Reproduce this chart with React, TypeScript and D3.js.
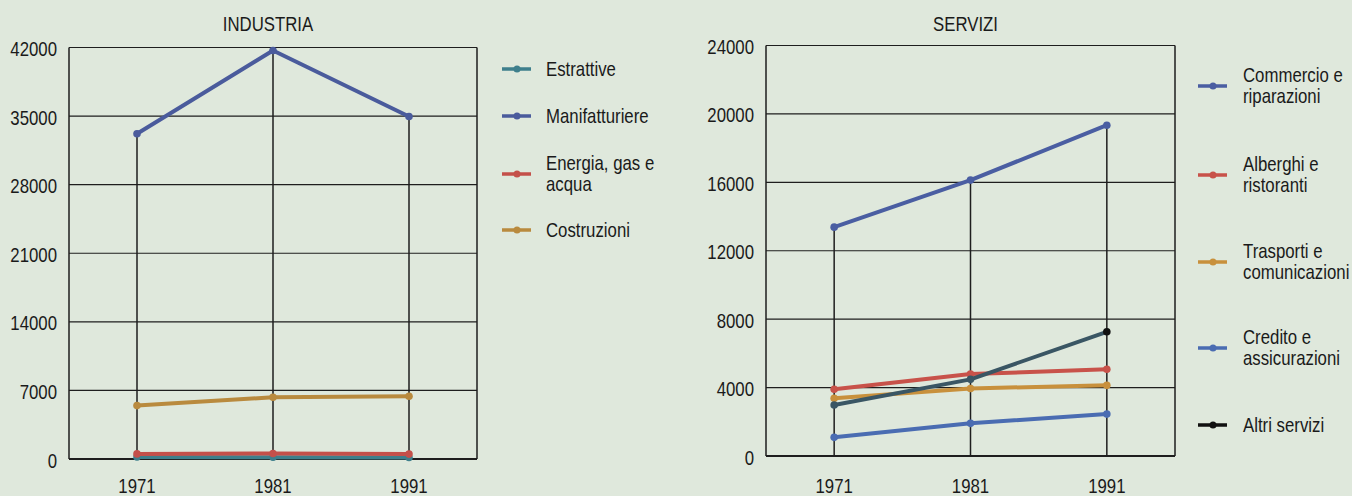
import React from "react";
import * as d3 from "d3";

// ---------- DATA ----------
const years = [1971, 1981, 1991];

const industriaSeries = ["Estrattive", "Manifatturiere", "Energia, gas e acqua", "Costruzioni"];
const industriaLabelLines = [["Estrattive"], ["Manifatturiere"], ["Energia, gas e", "acqua"], ["Costruzioni"]];
const estrattive = [200, 180, 150];
const manifatturiere = [33200, 41700, 34950];
const energia = [520, 560, 500];
const costruzioni = [5450, 6300, 6400];
const industriaTicks = [0, 7000, 14000, 21000, 28000, 35000, 42000];

const serviziSeries = ["Commercio e riparazioni", "Alberghi e ristoranti", "Trasporti e comunicazioni", "Credito e assicurazioni", "Altri servizi"];
const serviziLabelLines = [["Commercio e", "riparazioni"], ["Alberghi e", "ristoranti"], ["Trasporti e", "comunicazioni"], ["Credito e", "assicurazioni"], ["Altri servizi"]];
const commercio = [13380, 16130, 19340];
const alberghi = [3900, 4790, 5070];
const trasporti = [3370, 3950, 4130];
const credito = [1090, 1910, 2450];
const altri = [2980, 4480, 7260];
const serviziTicks = [0, 4000, 8000, 12000, 16000, 20000, 24000];

// ---------- STYLE ----------
const BG = "#dfe8dc";
const FONT = "'Liberation Sans', Arial, sans-serif";
const FS = 20;
const SX = 0.84;

function T({ x, y, anchor = "start", children }: { x: number; y: number; anchor?: string; children: React.ReactNode }) {
  return (
    <text
      transform={`translate(${x},${y}) scale(${SX},1)`}
      textAnchor={anchor}
      dominantBaseline="central"
      fontSize={FS}
      fontFamily={FONT}
      fill="#1a1a1a"
    >
      {children}
    </text>
  );
}

type Panel = {
  title: string;
  x0: number; x1: number; yTop: number; yBottom: number;
  yMax: number; ticks: number[];
  series: { values: number[]; color: string; dot: string }[];
  legend: { lines: string[]; color: string; dot: string; y: number }[];
  legendX: number; legendTextX: number;
};

function ChartPanel({ p }: { p: Panel }) {
  const x = d3.scaleLinear().domain([1966, 1996]).range([p.x0, p.x1]);
  const y = d3.scaleLinear().domain([0, p.yMax]).range([p.yBottom, p.yTop]);
  const line = d3.line<number>().x((_, i) => x(years[i])).y((v) => y(v));
  const maxAt = years.map((_, i) => d3.max(p.series, (s) => s.values[i]) as number);
  return (
    <g>
      <T x={(p.x0 + p.x1) / 2 - 5} y={24} anchor="middle">{p.title}</T>
      {/* grid */}
      {p.ticks.map((t) => (
        <g key={t}>
          <line x1={p.x0} x2={p.x1} y1={y(t)} y2={y(t)} stroke="#1e1e1e" strokeWidth={t === 0 ? 2 : 1.2} />
          <T x={p.x0 - 12} y={y(t) + 1.5} anchor="end">{t}</T>
        </g>
      ))}
      <line x1={p.x0} x2={p.x0} y1={p.yTop} y2={p.yBottom} stroke="#1e1e1e" strokeWidth={1.5} />
      <line x1={p.x1} x2={p.x1} y1={p.yTop} y2={p.yBottom} stroke="#1e1e1e" strokeWidth={1.5} />
      {/* drop lines */}
      {years.map((yr, i) => (
        <line key={yr} x1={x(yr)} x2={x(yr)} y1={y(maxAt[i])} y2={p.yBottom} stroke="#1e1e1e" strokeWidth={1.5} />
      ))}
      {/* x labels */}
      {years.map((yr) => (
        <T key={yr} x={x(yr)} y={486} anchor="middle">{yr}</T>
      ))}
      {/* series */}
      {p.series.map((s, k) => (
        <g key={k}>
          <path d={line(s.values) as string} fill="none" stroke={s.color} strokeWidth={4} strokeLinejoin="round" />
          {s.values.map((v, i) => (
            <circle key={i} cx={x(years[i])} cy={y(v)} r={3.8} fill={i === 2 && s.dot ? s.dot : s.color} />
          ))}
        </g>
      ))}
      {/* legend */}
      {p.legend.map((l, k) => (
        <g key={k}>
          <line x1={p.legendX} x2={p.legendX + 29} y1={l.y} y2={l.y} stroke={l.color} strokeWidth={3.5} />
          <circle cx={p.legendX + 15} cy={l.y} r={3.5} fill={l.dot || l.color} />
          {l.lines.map((t, j) => {
            const n = l.lines.length;
            const ty = l.y + (j - (n - 1) / 2) * 21 - (n > 1 ? 1 : 0);
            return <T key={j} x={p.legendTextX} y={ty}>{t}</T>;
          })}
        </g>
      ))}
    </g>
  );
}

export default function App() {
  const indColors = ["#3e7f8c", "#4a5b9c", "#c4504a", "#b98a3e"];
  const indVals = [estrattive, manifatturiere, energia, costruzioni];
  const indLegendY = [69, 116, 174, 230];
  const serColors = ["#4a5ea2", "#c8524a", "#c8903c", "#4a6cb2", "#3a5664"];
  const serDots = ["", "", "", "", "#111111"];
  const serVals = [commercio, alberghi, trasporti, credito, altri];
  const serLegendY = [86, 175, 262, 348, 425];

  const left: Panel = {
    title: "INDUSTRIA",
    x0: 69, x1: 477, yTop: 47.5, yBottom: 459,
    yMax: 42000, ticks: industriaTicks,
    series: indVals.map((v, i) => ({ values: v, color: indColors[i], dot: "" })),
    legend: industriaSeries.map((_, i) => ({ lines: industriaLabelLines[i], color: indColors[i], dot: "", y: indLegendY[i] })),
    legendX: 502, legendTextX: 546,
  };
  const right: Panel = {
    title: "SERVIZI",
    x0: 766, x1: 1175, yTop: 45.5, yBottom: 456,
    yMax: 24000, ticks: serviziTicks,
    series: serVals.map((v, i) => ({ values: v, color: serColors[i], dot: serDots[i] })),
    legend: serviziSeries.map((_, i) => ({ lines: serviziLabelLines[i], color: i === 4 ? "#111111" : serColors[i], dot: serDots[i], y: serLegendY[i] })),
    legendX: 1198, legendTextX: 1243,
  };
  return (
    <svg width={1352} height={496} style={{ position: "absolute", left: 0, top: 0 }}>
      <rect width={1352} height={496} fill={BG} />
      <ChartPanel p={left} />
      <ChartPanel p={right} />
    </svg>
  );
}
